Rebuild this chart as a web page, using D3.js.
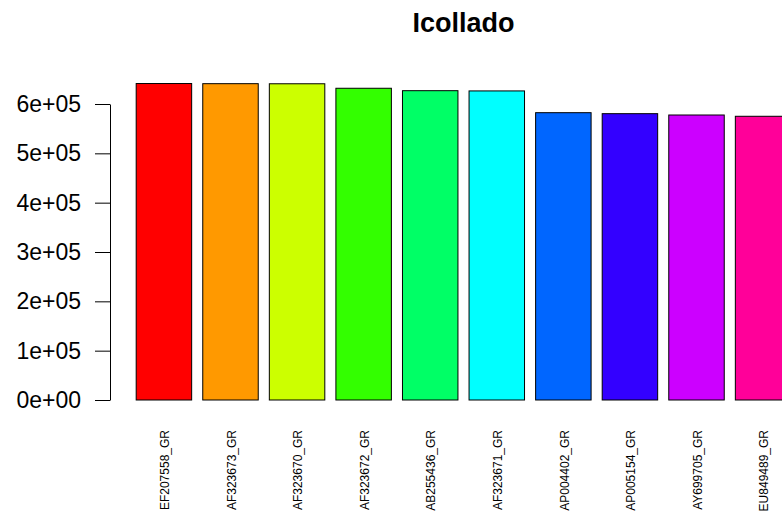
<!DOCTYPE html>
<html>
<head>
<meta charset="utf-8">
<script src="https://cdn.jsdelivr.net/npm/d3@7"></script>
<style>
  html, body { margin: 0; padding: 0; background: #ffffff; }
  svg { display: block; font-family: "Liberation Sans", Arial, Helvetica, sans-serif; }
</style>
</head>
<body>
<svg id="chart" width="782" height="518"></svg>
<script>
// Genome records and their values
const categories = ["EF207558_GR", "AF323673_GR", "AF323670_GR", "AF323672_GR", "AB255436_GR",
                    "AF323671_GR", "AP004402_GR", "AP005154_GR", "AY699705_GR", "EU849489_GR"];
const values = [641500, 641200, 641000, 631900, 627000, 626500, 582400, 580400, 577700, 575100];
const barColors = ["#FF0000", "#FF9900", "#CCFF00", "#33FF00", "#00FF66",
                   "#00FFFF", "#0066FF", "#3300FF", "#CC00FF", "#FF0099"];
const yTicks = [0, 100000, 200000, 300000, 400000, 500000, 600000];
const yTickLabels = ["0e+00", "1e+05", "2e+05", "3e+05", "4e+05", "5e+05", "6e+05"];
const title = "Icollado";

const svg = d3.select("#chart");

// Bar layout: width 1, spacing 0.2, with a 4% padded domain
const n = categories.length;
const lo = 0.2, hi = 1.2 * n;
const pad = (hi - lo) * 0.04;
const x = d3.scaleLinear().domain([lo - pad, hi + pad]).range([110, 817]);
const y = d3.scaleLinear().domain([0, 600000]).range([400, 104]);

// Bars
svg.append("g")
  .selectAll("rect")
  .data(values)
  .join("rect")
  .attr("x", (d, i) => x(0.2 + 1.2 * i))
  .attr("width", (d, i) => x(1.2 + 1.2 * i) - x(0.2 + 1.2 * i))
  .attr("y", d => y(d))
  .attr("height", d => y(0) - y(d))
  .attr("fill", (d, i) => barColors[i])
  .attr("stroke", "#000")
  .attr("stroke-width", 1);

// Y axis
const yAxis = d3.axisLeft(y)
  .tickValues(yTicks)
  .tickFormat((d, i) => yTickLabels[i])
  .tickSize(15)
  .tickSizeOuter(0)
  .tickPadding(14);
const gy = svg.append("g").attr("transform", "translate(110,0)").call(yAxis);
gy.select(".domain").attr("stroke", "#000");
gy.selectAll(".tick line").attr("stroke", "#000");
gy.selectAll(".tick text")
  .attr("font-size", 23)
  .attr("fill", "#000")
  .attr("font-family", "Liberation Sans, Arial, sans-serif");

// Category labels, rotated
svg.append("g")
  .selectAll("text")
  .data(categories)
  .join("text")
  .attr("transform", (d, i) => `translate(${x(0.7 + 1.2 * i) + 1},430) rotate(-90)`)
  .attr("text-anchor", "end")
  .attr("dy", "0.35em")
  .attr("font-size", 12)
  .attr("fill", "#000")
  .text(d => d);

// Title
svg.append("text")
  .attr("x", (x.range()[0] + x.range()[1]) / 2)
  .attr("y", 32)
  .attr("text-anchor", "middle")
  .attr("font-size", 27)
  .attr("font-weight", "bold")
  .attr("fill", "#000")
  .text(title);
</script>
</body>
</html>
